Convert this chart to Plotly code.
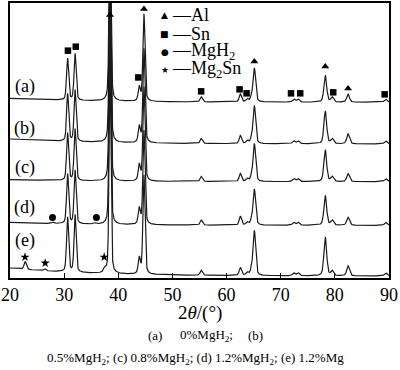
import numpy as np
import plotly.graph_objects as go

# ---------------- data ----------------
pattern_labels = ["(a)", "(b)", "(c)", "(d)", "(e)"]
baseline_end = [177, 135, 97, 53, 2]      # background level at high angle
bg_low = [4, 5, 2, 3, 8]                  # extra background at low angle

peak_pos = [30.64, 32.02, 38.47, 43.87, 44.74, 55.33, 62.54, 63.8, 64.6,
            65.13, 72.4, 73.2, 78.23, 79.5, 82.44, 89.4]
peak_fwhm = [0.45, 0.45, 0.4, 0.45, 0.45, 0.5, 0.5, 0.5, 0.5,
             0.55, 0.55, 0.55, 0.6, 0.6, 0.6, 0.6]
heights_a = [42, 47, 200, 14, 88, 5, 8, 3, 4, 34, 3, 3, 27, 5, 8, 3]
heights_b = [48, 52, 200, 16, 95, 5, 8, 3, 4, 38, 3, 3, 33, 5, 10, 3]
heights_c = [48, 52, 200, 16, 95, 5, 8, 3, 4, 38, 3, 3, 32, 5, 8, 3]
heights_d = [50, 54, 200, 16, 95, 5, 9, 3, 4, 36, 3, 3, 30, 5, 8, 3]
heights_e = [55, 58, 200, 16, 100, 5, 8, 3, 5, 45, 3, 3, 39, 5, 10, 3]
heights = [heights_a, heights_b, heights_c, heights_d, heights_e]

mgh2_peak_pos = [27.9, 35.7]
mgh2_peak_h_d = [1.2, 1.2]
mg2sn_peak_pos = [22.8, 26.4, 37.5]
mg2sn_peak_h_e = [8, 2, 4]

# phase markers (2theta, level)
al_mark_x = [38.47, 44.74, 65.13, 78.23, 82.44]
al_mark_y = [265, 271, 218, 213, 191]
sn_mark_x = [30.7, 32.15, 43.7, 55.3, 62.4, 63.7, 71.9, 73.6, 79.7, 89.2]
sn_mark_y = [229, 233, 202, 188, 190, 186, 186, 186, 187, 185]
mgh2_mark_x = [27.85, 35.96]
mgh2_mark_y = [61, 61]
mg2sn_mark_x = [22.77, 26.5, 37.4]
mg2sn_mark_y = [21, 15, 21]

x_ticks = [20, 30, 40, 50, 60, 70, 80, 90]

# ---------------- build ----------------
FONT = "Liberation Serif, Times New Roman, serif"
x = np.arange(20, 90.0001, 0.02)


def pv(xx, x0, h, w, eta=0.4):
    d = (xx - x0) / w
    return h * (eta / (1 + 4 * d * d) + (1 - eta) * np.exp(-4 * np.log(2) * d * d))


fig = go.Figure()
for i, lab in enumerate(pattern_labels):
    y = baseline_end[i] + bg_low[i] * np.exp(-(x - 20) / 15.0)
    for p, w, h in zip(peak_pos, peak_fwhm, heights[i]):
        y = y + pv(x, p, h, w)
    if lab == "(d)":
        for p, h in zip(mgh2_peak_pos, mgh2_peak_h_d):
            y = y + pv(x, p, h, 0.5)
    if lab == "(e)":
        for p, h in zip(mg2sn_peak_pos, mg2sn_peak_h_e):
            y = y + pv(x, p, h, 0.5)
    fig.add_trace(go.Scatter(x=x, y=y, mode="lines",
                             line=dict(color="#1a1a1a", width=1.2),
                             showlegend=False, hoverinfo="skip"))

mk = dict(color="black", size=7)
fig.add_trace(go.Scatter(x=al_mark_x, y=al_mark_y, mode="markers",
                         marker=dict(symbol="triangle-up", **mk), showlegend=False))
fig.add_trace(go.Scatter(x=sn_mark_x, y=sn_mark_y, mode="markers",
                         marker=dict(symbol="square", color="black", size=6.5), showlegend=False))
fig.add_trace(go.Scatter(x=mgh2_mark_x, y=mgh2_mark_y, mode="markers",
                         marker=dict(symbol="circle", **mk), showlegend=False))
fig.add_trace(go.Scatter(x=mg2sn_mark_x, y=mg2sn_mark_y, mode="markers",
                         marker=dict(symbol="star", color="black", size=7), showlegend=False))

L, R, T, B = 9, 11, 1, 92
W, H = 400, 370
PW, PH = W - L - R, H - T - B


def xp(px):
    return (px - L) / PW


def yp(py):
    return (T + PH - py) / PH


ann = []
label_py = [85, 127, 167, 207, 240]
for lab, py in zip(pattern_labels, label_py):
    ann.append(dict(x=xp(24), y=yp(py), xref="paper", yref="paper", text=lab,
                    showarrow=False, font=dict(family=FONT, size=18, color="black"),
                    xanchor="center", yanchor="middle"))

# legend
leg_sym = ["▲", "■", "●", "★"]
leg_txt = ["—Al", "—Sn", "—MgH<sub>2</sub>", "—Mg<sub>2</sub>Sn"]
leg_py = [13, 32, 50, 68]
for s, t, py in zip(leg_sym, leg_txt, leg_py):
    ann.append(dict(x=xp(164), y=yp(py), xref="paper", yref="paper", text=s,
                    showarrow=False, font=dict(family="DejaVu Sans", size=9, color="black"),
                    xanchor="center", yanchor="middle"))
    ann.append(dict(x=xp(169), y=yp(py), xref="paper", yref="paper", text=t,
                    showarrow=False, font=dict(family=FONT, size=18, color="black"),
                    xanchor="left", yanchor="middle"))

ann.append(dict(x=xp(199), y=yp(313), xref="paper", yref="paper",
                text="2<i>θ</i>/(°)", showarrow=False,
                font=dict(family=FONT, size=19, color="black"),
                xanchor="center", yanchor="middle"))
cap = dict(family=FONT, size=13, color="black")
ann.append(dict(x=xp(154.5), y=yp(336), xref="paper", yref="paper", text="(a)",
                showarrow=False, font=cap, xanchor="center", yanchor="middle"))
ann.append(dict(x=xp(177), y=yp(336), xref="paper", yref="paper", text="0%MgH<sub>2</sub>;",
                showarrow=False, font=cap, xanchor="left", yanchor="middle"))
ann.append(dict(x=xp(255.5), y=yp(336), xref="paper", yref="paper", text="(b)",
                showarrow=False, font=cap, xanchor="center", yanchor="middle"))
ann.append(dict(x=xp(195), y=yp(359), xref="paper", yref="paper",
                text="0.5%MgH<sub>2</sub>; (c) 0.8%MgH<sub>2</sub>; (d) 1.2%MgH<sub>2</sub>; (e) 1.2%Mg",
                showarrow=False, font=cap, xanchor="center", yanchor="middle"))

fig.update_layout(
    width=W, height=H,
    margin=dict(l=L, r=R, t=T, b=B, pad=0),
    paper_bgcolor="white", plot_bgcolor="white",
    annotations=ann,
    xaxis=dict(range=[20, 90], tickvals=x_ticks, ticktext=[str(v) for v in x_ticks],
               ticks="inside", ticklen=5, tickwidth=1, tickcolor="black",
               showline=True, linecolor="black", linewidth=1.5, mirror=True,
               showgrid=False, zeroline=False,
               tickfont=dict(family=FONT, size=18, color="black")),
    yaxis=dict(range=[0, PH], showticklabels=False, ticks="",
               showline=True, linecolor="black", linewidth=1.5, mirror=True,
               showgrid=False, zeroline=False),
)

fig.write_html("out.html", config={"displayModeBar": False},
               post_script="document.body.style.margin='0px';document.body.style.overflow='hidden';")
